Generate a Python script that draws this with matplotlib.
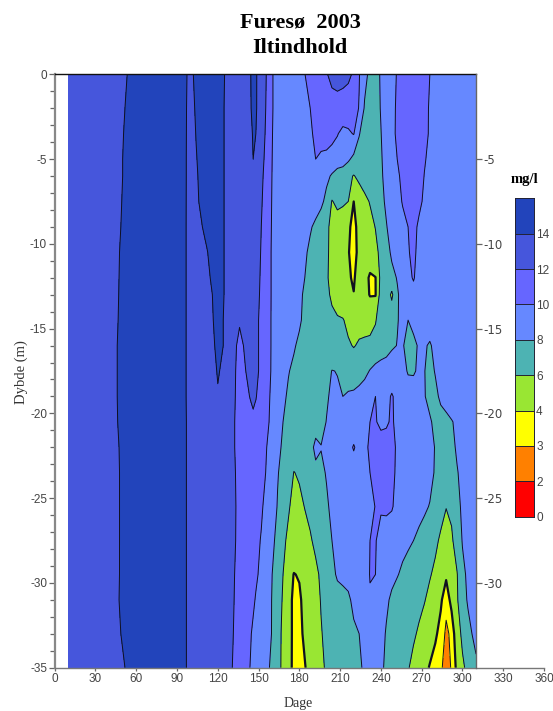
import numpy as np
import matplotlib
matplotlib.use("Agg")
import matplotlib.pyplot as plt
from matplotlib.colors import ListedColormap, BoundaryNorm
from matplotlib.ticker import MultipleLocator

SERIF = ["Liberation Serif", "DejaVu Serif"]
SANS = ["Liberation Sans", "DejaVu Sans"]

days = [10, 30, 44, 48, 52, 56, 92, 96,
        100, 104, 108, 112, 116, 120, 124, 128, 132, 136, 140, 144, 146, 148,
        152, 156, 160, 164, 168, 172, 176, 180, 184, 188, 192, 196, 200, 204, 208, 212, 216, 220,
        224, 228, 232, 236, 240, 244, 248, 252, 256, 260, 264, 268, 272, 276, 280, 284, 288, 292,
        296, 300, 304, 310]
depths = [0, 2, 3.5, 5, 6, 7.5, 9, 10.5, 12, 13, 14.5, 16, 17.5, 19, 20.5, 22, 23.5, 25.5, 27.5, 29.5, 31, 33, 35]

# iltindhold (mg/l), en raekke pr. dybde
oxygen = [
    [13, 13.2, 12.6, 13.2, 13.8, 14.4, 14.8, 14.2,
     13.6, 14.4, 14.8, 15, 15, 15, 14.2, 13.4, 13.2, 13.2, 13.3, 13.95, 14.3, 14.2,
     13.0, 11.9, 10.1, 9.4, 9.2, 9.2, 9.4, 9.7, 9.98, 10.4, 10.8, 11.2, 11.9, 12.4, 12.6, 12.5, 12.3, 11.8,
     10.1, 8.6, 7.5, 7.3, 8.2, 8.9, 9.5, 10.1, 10.5, 10.7, 10.7, 10.5, 10.3, 10.0, 9.6, 9.3, 9, 9,
     9, 9, 9, 9],
    [13, 13.2, 12.8, 13.4, 14.05, 14.6, 14.8, 14.2,
     13.4, 14.2, 14.7, 15, 15, 15, 14.1, 13.4, 13.2, 13.2, 13.3, 13.9, 14.3, 14.2,
     12.9, 11.8, 10.1, 9.4, 9.2, 9.2, 9.2, 9.3, 9.5, 10.0, 10.4, 10.8, 11.1, 11.4, 11.4, 11.3, 11.2, 10.8,
     9.9, 7.8, 7.3, 7.3, 8.1, 8.9, 9.6, 10.2, 10.6, 10.8, 10.8, 10.6, 10.3, 9.9, 9.6, 9.3, 9, 9,
     9, 9, 9, 9],
    [13, 13.2, 13, 13.6, 14.2, 14.8, 14.8, 14.2,
     13.3, 14.05, 14.6, 15, 15, 15, 14.1, 13.4, 13.2, 13.2, 13.3, 13.6, 14.15, 14.0,
     12.9, 11.6, 10.05, 9.3, 9.1, 9.1, 9.1, 9.2, 9.3, 9.7, 10.4, 10.7, 10.9, 10.6, 10.1, 9.5, 9.7, 10.1,
     8.1, 7.2, 7, 7.2, 7.95, 8.8, 9.5, 10.3, 10.8, 11, 11, 10.8, 10.5, 9.8, 9.5, 9.3, 9, 9,
     9, 9, 9, 9],
    [13, 13.2, 13.1, 13.7, 14.3, 14.9, 14.8, 14.2,
     13.2, 13.9, 14.5, 15, 15, 15, 14.1, 13.4, 13.2, 13.2, 13.3, 13.4, 14.0, 13.7,
     12.6, 11.4, 10.0, 9.3, 9.1, 9, 9, 9.1, 9.2, 9.4, 10, 9.7, 9.5, 9.2, 9.1, 9, 8.3, 7.5,
     7.2, 7, 6.9, 7.1, 7.8, 8.7, 9.4, 10.0, 10.7, 11, 11.1, 10.9, 10.15, 9.6, 9.4, 9.2, 9, 9,
     9, 9, 9, 9],
    [13, 13.2, 13.2, 13.7, 14.3, 14.9, 14.8, 14.2,
     13.2, 13.8, 14.4, 15, 15, 15, 14.1, 13.4, 13.2, 13.2, 13.2, 13.2, 13.1, 13,
     12.4, 11.2, 9.95, 9.2, 9, 9, 9, 9, 9, 9, 9, 8.8, 8.4, 7.8, 7.1, 6.8, 6.4, 5.9,
     6.4, 6.8, 7, 7.2, 7.7, 8.6, 9.2, 9.7, 10.4, 10.9, 11, 10.7, 9.95, 9.6, 9.4, 9.2, 9, 9,
     9, 9, 9, 9],
    [13, 13.2, 13.2, 13.8, 14.4, 15, 14.8, 14.2,
     13.1, 13.7, 14.3, 14.9, 15, 15, 14.1, 13.4, 13.2, 13.2, 13.2, 13.1, 13.1, 13,
     12.2, 11, 9.9, 9.2, 9, 9, 9, 9, 9, 9, 8.9, 8.4, 7.5, 5.9, 6.4, 6.3, 6.0, 4.0,
     5.0, 5.6, 6.1, 6.7, 7.5, 8.3, 9, 9.5, 10.1, 10.8, 11, 10.4, 9.7, 9.4, 9.2, 9, 9, 9,
     9, 9, 9, 9],
    [13, 13.2, 13.3, 13.9, 14.5, 15, 14.8, 14.2,
     13, 13.6, 13.9, 14.5, 15, 15, 14.1, 13.4, 13.2, 13.2, 13.1, 13, 12.9, 12.8,
     12, 10.9, 9.85, 9.2, 9, 9, 9, 8.9, 8.7, 8.2, 7.6, 7, 6.3, 5.6, 5.2, 4.8, 4.3, 3.5,
     4.6, 5.1, 5.5, 6.05, 6.9, 7.9, 8.7, 9.2, 9.6, 10, 10.5, 9.7, 9.4, 9.2, 9, 9, 9, 9,
     9, 9, 9, 9],
    [13, 13.2, 13.4, 14.05, 14.6, 15, 14.8, 14.2,
     13, 13.4, 13.7, 13.9, 14.6, 15, 14.1, 13.4, 13.2, 13.2, 13, 12.9, 12.8, 12.7,
     11.9, 10.8, 9.8, 9.2, 9, 9, 8.9, 8.8, 8.3, 7.6, 7.2, 6.9, 6.3, 5.5, 5.1, 4.7, 4.1, 3.4,
     4.5, 5, 5.3, 5.6, 6.4, 7.3, 8.3, 9, 9.5, 9.9, 10.3, 9.6, 9.3, 9.1, 9, 9, 9, 9,
     9, 9, 9, 9],
    [13, 13.2, 13.5, 14.1, 14.7, 15, 14.8, 14.2,
     13, 13.3, 13.5, 13.7, 14.2, 15, 14.1, 13.4, 13.2, 13.1, 13, 12.8, 12.7, 12.6,
     11.8, 10.8, 9.8, 9.2, 9, 9, 8.9, 8.6, 8, 7.5, 7.1, 6.8, 6.2, 5.5, 5, 4.7, 4.2, 3.8,
     4.8, 4.8, 3.7, 3.95, 6.6, 7, 7.5, 8.1, 9, 9.7, 10.1, 9.5, 9.2, 9.1, 9, 9, 9, 9,
     9, 9, 9, 9],
    [13, 13.2, 13.5, 14.15, 14.7, 15, 14.8, 14.2,
     13, 13.2, 13.4, 13.6, 14, 14.8, 14.1, 13.4, 13.1, 13, 12.9, 12.8, 12.7, 12.6,
     11.7, 10.8, 9.8, 9.2, 9, 9, 8.9, 8.4, 7.7, 7.3, 7, 6.8, 6.4, 5.7, 5.1, 4.8, 4.4, 4.05,
     4.8, 4.6, 3.9, 3.9, 6.9, 7.2, 5.6, 7.8, 8.6, 9.3, 9.6, 9.4, 9.2, 9, 9, 9, 9, 9,
     9, 9, 9, 9],
    [13, 13.2, 13.6, 14.2, 14.8, 15, 14.8, 14.2,
     13, 13.1, 13.3, 13.5, 13.9, 14.5, 14, 13.3, 12.8, 12.2, 12.2, 12.5, 12.6, 12.5,
     11.5, 10.7, 9.8, 9.2, 9, 9, 8.9, 8.3, 7.5, 7.2, 7, 6.8, 6.6, 6.4, 6.2, 6.1, 5.6, 5.4,
     5.4, 5.4, 5.4, 5.9, 6.7, 7.1, 7.4, 7.9, 8.4, 8.0, 8.5, 9, 9, 9, 9, 9, 9, 9,
     9, 9, 9, 9],
    [13, 13.2, 13.7, 14.3, 14.9, 15, 14.8, 14.2,
     13, 13.1, 13.2, 13.4, 13.7, 14.4, 14, 13.2, 12.4, 11.5, 12.2, 12.6, 12.6, 12.5,
     11.5, 10.7, 9.8, 9.2, 9, 8.8, 8.2, 7.6, 7.2, 7, 6.9, 6.8, 6.7, 6.6, 6.5, 6.4, 6.2, 5.9,
     6.2, 6.3, 6.4, 6.5, 6.7, 7, 7.7, 8.05, 8.1, 7.6, 7.6, 8.2, 8.2, 7.8, 8.5, 9, 9, 9,
     9, 9, 9, 9],
    [13, 13.2, 13.7, 14.3, 14.9, 15, 14.8, 14.2,
     13, 13, 13.1, 13.3, 13.6, 14.1, 13.8, 13.1, 12.2, 11.5, 11.9, 12.6, 12.7, 12.6,
     11.4, 10.6, 9.8, 9.2, 8.7, 8.1, 7.6, 7.2, 7, 6.9, 6.8, 7, 7.4, 8.05, 7.95, 7.5, 7.2, 7.1,
     7.2, 7.5, 8.1, 8.6, 9, 9.2, 9.3, 9.2, 8.7, 7.8, 7.8, 8.3, 8.05, 7.5, 8.1, 8.6, 9, 9,
     9, 9, 9, 9],
    [13, 13.2, 13.7, 14.3, 14.9, 15, 14.8, 14.2,
     13, 13, 13, 13.2, 13.4, 13.9, 13.5, 13, 12.2, 11.3, 11.5, 12.1, 12.4, 12.1,
     11.2, 10.4, 9.7, 9, 8.4, 7.7, 7.1, 6.9, 6.8, 6.8, 6.9, 7.2, 7.8, 8.3, 8.2, 8.0, 8.2, 8.3,
     8.6, 9, 9.8, 10.0, 9.7, 9.7, 10.1, 9.7, 9.5, 9.1, 8.9, 8.6, 8.1, 7.5, 7.6, 8.3, 8.8, 9,
     9, 9, 9, 9],
    [13, 13.2, 13.65, 14.25, 14.85, 15, 14.8, 14.2,
     13.3, 13, 13, 13.1, 13.2, 13.3, 13.2, 12.8, 12.1, 11.2, 11.1, 11.4, 11.6, 11.4,
     10.8, 10.3, 9.6, 8.9, 8, 7.4, 7, 6.8, 6.8, 6.9, 7.1, 7.5, 8.05, 8.4, 8.6, 8.8, 9, 9.2,
     9.4, 9.7, 10, 10.1, 9.7, 9.8, 10.2, 9.6, 9.4, 9.3, 9.2, 9, 8.6, 8.2, 7.6, 7.4, 7.5, 7.9,
     8.3, 8.7, 9, 9],
    [13, 13.2, 13.5, 14.1, 14.7, 15, 14.8, 14.2,
     13.3, 13, 13, 13, 13.1, 13.2, 13.1, 12.7, 12.1, 11.2, 11, 11, 11, 11,
     10.6, 10.0, 9.4, 8.5, 7.7, 7.2, 6.9, 6.7, 6.8, 7.3, 8.5, 8.05, 8.5, 8.8, 9, 9.2, 9.6, 10.1,
     9.6, 9.7, 10.2, 10.6, 10.6, 10.6, 10.4, 9.8, 9.5, 9.4, 9.3, 9.2, 9, 8.6, 7.9, 7.5, 7.4, 7.6,
     8.2, 8.6, 8.9, 9],
    [13, 13.2, 13.4, 14.05, 14.6, 15, 14.8, 14.2,
     13.3, 13, 13, 13, 13, 13, 13, 12.9, 12.2, 11.4, 11, 10.9, 10.85, 10.7,
     10.4, 9.9, 9.2, 8.1, 7.5, 6.9, 5.95, 6.2, 6.5, 6.9, 7.5, 7.7, 8.1, 8.5, 8.8, 9, 9.2, 9.4,
     9.5, 9.7, 10, 10.4, 10.6, 10.6, 10.4, 9.7, 9.5, 9.4, 9.2, 9.1, 9, 8.6, 7.8, 7.4, 7.2, 7.3,
     7.9, 8.4, 8.8, 9],
    [13, 13.2, 13.4, 14.05, 14.6, 15, 14.8, 14.2,
     13.3, 13, 13, 13, 13, 13, 13, 12.9, 12.3, 11.4, 11, 10.8, 10.7, 10.5,
     10.2, 9.5, 8.8, 7.9, 7.1, 6.2, 5.4, 5.6, 6.05, 6.5, 6.9, 7.3, 7.8, 8.3, 8.6, 8.9, 9.1, 9.2,
     9.3, 9.4, 9.6, 10.05, 10.2, 10.3, 10.15, 9.5, 9.3, 9.1, 8.9, 8.6, 8.3, 7.9, 7.3, 6.7, 6.05, 6.4,
     7.5, 8.3, 8.7, 9],
    [13, 13.2, 13.4, 14.05, 14.6, 15, 14.8, 14.2,
     13.3, 13, 13, 13, 13, 13, 13, 12.8, 12.2, 11.5, 11, 10.7, 10.55, 10.4,
     9.9, 9.3, 8.3, 7.6, 6.4, 5.6, 5.1, 5.0, 5.4, 5.8, 6.4, 6.9, 7.5, 8, 8.4, 8.7, 8.9, 9,
     9.1, 9.3, 10, 10.1, 9.4, 9.2, 9, 8.8, 8.5, 8.3, 8, 7.6, 7.2, 6.8, 6.4, 5.7, 5.2, 5.7,
     6.9, 8.1, 8.6, 8.9],
    [13, 13.2, 13.45, 14.05, 14.65, 15, 14.8, 14.2,
     13.3, 13, 13, 13, 13, 13, 13, 12.7, 12.05, 11.5, 11, 10.6, 10.4, 10.2,
     9.7, 9.1, 8, 7.1, 6, 4.6, 3.95, 4.1, 4.6, 5, 5.6, 6.3, 7, 7.6, 8.2, 8.4, 8.6, 8.8,
     9, 9.5, 10.05, 10, 9.3, 9, 8.6, 8.1, 7.7, 7.3, 7, 6.7, 6.4, 6.15, 5.6, 4.8, 4.2, 4.9,
     5.9, 7.6, 8.3, 8.8],
    [13, 13.2, 13.5, 14.1, 14.7, 15, 14.8, 14.2,
     13.3, 13, 13, 13, 13, 13, 13, 12.6, 12, 11.5, 11, 10.5, 10.2, 9.9,
     9.5, 8.9, 7.9, 6.9, 5.8, 4.5, 3.7, 3.8, 4.4, 4.9, 5.4, 6.1, 6.6, 7, 7.4, 7.5, 7.7, 8.4,
     8.8, 9.2, 9.9, 10, 9.2, 8.4, 7.6, 7.3, 7.1, 6.9, 6.7, 6.4, 6.1, 5.5, 4.9, 4.2, 3.3, 4.4,
     5.8, 7.2, 8.2, 8.7],
    [13, 13.2, 13.3, 13.9, 14.5, 15, 14.8, 14.2,
     13.3, 13, 13, 13, 13, 13, 13, 12.6, 11.9, 11.3, 10.7, 10.1, 9.8, 9.5,
     9.2, 8.7, 7.9, 6.7, 5.6, 4.5, 3.7, 3.6, 4.3, 4.8, 5.3, 5.9, 6.4, 6.7, 7, 7.2, 7.5, 7.7,
     8, 8.5, 9, 9.2, 8.8, 7.8, 7.2, 7, 6.7, 6.5, 6.2, 5.8, 5.2, 4.7, 4.2, 3.6, 2.8, 3.2,
     4.9, 6.5, 7.4, 8.6],
    [13, 13.2, 12.8, 13.4, 14.05, 14.6, 14.8, 14.2,
     13.3, 13, 13, 13, 13, 13, 13, 12.4, 11.8, 11.1, 10.5, 9.95, 9.7, 9.4,
     9, 8.5, 7.5, 6.6, 5.6, 4.6, 3.6, 3.3, 3.9, 4.6, 5.1, 5.7, 6.2, 6.5, 6.8, 7, 7.3, 7.5,
     7.8, 8.2, 8.6, 8.8, 8.3, 7.7, 7.2, 6.8, 6.5, 6.1, 5.6, 5, 4.4, 3.9, 3.5, 3.2, 2.5, 3.1,
     4.3, 5.6, 6.6, 7.6],
]

levels = [0, 2, 3, 4, 6, 8, 10, 12, 14, 16]
level_colors = ["#ff0000", "#ff8000", "#ffff00", "#99e633", "#4db3b3",
                "#6688ff", "#6666ff", "#4656dc", "#2244bb"]

W, H = 553, 711
fig = plt.figure(figsize=(W / 100, H / 100), dpi=100, facecolor="white")
ax = fig.add_axes([54.7 / W, 1 - 667.7 / H, 489.3 / W, 593.4 / H])

cmap = ListedColormap(level_colors)
norm = BoundaryNorm(levels, cmap.N)
X = np.array(days)
Y = -np.array(depths)
Z = np.array(oxygen)
ax.contourf(X, Y, Z, levels=levels, cmap=cmap, norm=norm)
line_levels = levels[1:-1]
widths = [1.6 if lv == 4 else 0.7 for lv in line_levels]
ax.contour(X, Y, Z, levels=line_levels, colors="#101020", linewidths=widths)

ax.set_xlim(0, 360)
ax.set_ylim(-35, 0)
ax.xaxis.set_major_locator(MultipleLocator(30))
ax.yaxis.set_minor_locator(MultipleLocator(1))
ax.tick_params(axis="x", which="major", length=2.5, width=0.9, color="#666666",
               labelsize=8.5, labelcolor="#444444", pad=1.5)
ax.tick_params(axis="y", which="major", length=4.5, width=0.9, color="#666666",
               labelsize=8.5, labelcolor="#444444", pad=1)
ax.tick_params(axis="y", which="minor", length=3.5, width=0.9, color="#666666")
ax.set_yticks(range(-35, 1, 5))
ax.set_yticklabels([str(v) for v in range(-35, 1, 5)], family=SANS)
for lab in ax.get_xticklabels():
    lab.set_family(SANS)

ax.spines["right"].set_visible(False)
ax.spines["left"].set_color("#888888")
ax.spines["left"].set_linewidth(1.6)
ax.spines["bottom"].set_color("#777777")
ax.spines["bottom"].set_linewidth(1.0)
ax.spines["top"].set_color("#111111")
ax.spines["top"].set_linewidth(1.0)
ax.spines["top"].set_bounds(0, 310)

# hoejre akse sidder ved dag 310
ax2 = ax.twinx()
ax2.set_ylim(-35, 0)
ax2.set_yticks(range(-30, 0, 5))
ax2.set_yticklabels([str(v) for v in range(-30, 0, 5)], family=SANS)
ax2.tick_params(axis="y", length=4.5, width=0.9, color="#666666",
                labelsize=8.5, labelcolor="#444444", pad=1)
for name in ["left", "top", "bottom"]:
    ax2.spines[name].set_visible(False)
ax2.spines["right"].set_position(("data", 310))
ax2.spines["right"].set_color("#666666")
ax2.spines["right"].set_linewidth(1.0)

# farveskala
cax = fig.add_axes([515 / W, 1 - 516.7 / H, 19 / W, 318.4 / H])
steps = np.arange(len(levels))
cax.pcolormesh([0, 1], steps, np.arange(len(level_colors)).reshape(-1, 1), cmap=cmap,
               vmin=-0.5, vmax=len(level_colors) - 0.5)
for s in steps[1:-1]:
    cax.axhline(s, color="#222233", linewidth=0.7)
cax.set_xticks([])
cax.yaxis.tick_right()
cax.set_yticks(steps[:-1])
cax.set_yticklabels([str(v) for v in levels[:-1]], family=SANS)
cax.tick_params(axis="y", length=0, labelsize=8.5, labelcolor="#444444", pad=1.5)
for sp in cax.spines.values():
    sp.set_color("#222233")
    sp.set_linewidth(0.7)

fig.text(300 / W, 1 - 22 / H, "Furesø  2003", family=SERIF, fontsize=16, fontweight="bold",
         ha="center", va="center", color="black")
fig.text(300 / W, 1 - 48 / H, "Iltindhold", family=SERIF, fontsize=16, fontweight="bold",
         ha="center", va="center", color="black")
fig.text(525 / W, 1 - 179 / H, "mg/l", family=SERIF, fontsize=10.5, fontweight="bold",
         ha="center", va="center", color="black")
fig.text(298 / W, 1 - 703 / H, "Dage", family=SERIF, fontsize=10, ha="center", va="center",
         color="#333333")
fig.text(21 / W, 1 - 372 / H, "Dybde (m)", family=SERIF, fontsize=10.5, rotation=90,
         ha="center", va="center", color="#333333")

fig.savefig("out.png", dpi=100)
